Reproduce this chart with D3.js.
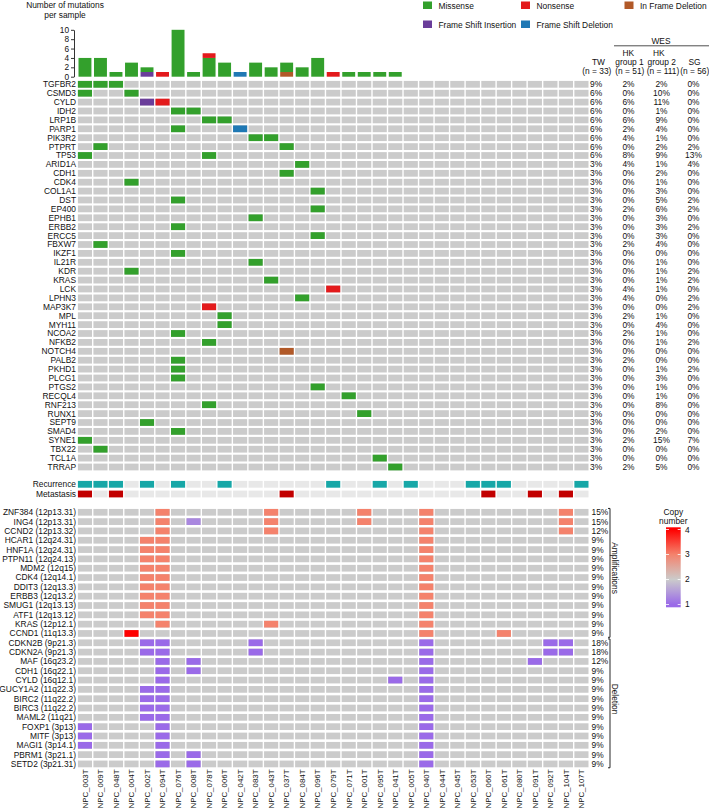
<!DOCTYPE html>
<html><head><meta charset="utf-8">
<script src="https://cdn.jsdelivr.net/npm/d3@7"></script>
<style>
body{margin:0;background:#fff}
svg{display:block}
text{font-family:"Liberation Sans",Arial,Helvetica,sans-serif;font-size:8.4px;fill:#111}
</style>
</head><body><div id="chart"></div>
<script>
// ---------------- DATA ----------------
const samples = ["NPC_003T","NPC_009T","NPC_048T","NPC_004T","NPC_002T","NPC_094T","NPC_076T","NPC_008T","NPC_078T","NPC_006T","NPC_042T","NPC_083T","NPC_043T","NPC_037T","NPC_084T","NPC_096T","NPC_079T","NPC_071T","NPC_001T","NPC_095T","NPC_041T","NPC_005T","NPC_040T","NPC_044T","NPC_045T","NPC_053T","NPC_060T","NPC_061T","NPC_080T","NPC_091T","NPC_092T","NPC_104T","NPC_107T"];

const mutGenes = ["TGFBR2","CSMD3","CYLD","IDH2","LRP1B","PARP1","PIK3R2","PTPRT","TP53","ARID1A","CDH1","CDK4","COL1A1","DST","EP400","EPHB1","ERBB2","ERCC5","FBXW7","IKZF1","IL21R","KDR","KRAS","LCK","LPHN3","MAP3K7","MPL","MYH11","NCOA2","NFKB2","NOTCH4","PALB2","PKHD1","PLCG1","PTGS2","RECQL4","RNF213","RUNX1","SEPT9","SMAD4","SYNE1","TBX22","TCL1A","TRRAP"];

const mutTypes = ["Missense","Nonsense","In Frame Deletion","Frame Shift Insertion","Frame Shift Deletion"];
const mutColors = ["#33a02c","#e31a1c","#b15928","#6a3d9a","#1f78b4"];
const stackOrder = ["Frame Shift Insertion","In Frame Deletion","Frame Shift Deletion","Missense","Nonsense"];

// [gene, sample, type]
const mutEvents = [
 ["TGFBR2","NPC_003T","Missense"],["TGFBR2","NPC_009T","Missense"],["TGFBR2","NPC_048T","Missense"],
 ["CSMD3","NPC_003T","Missense"],["CSMD3","NPC_004T","Missense"],
 ["CYLD","NPC_002T","Frame Shift Insertion"],["CYLD","NPC_094T","Nonsense"],
 ["IDH2","NPC_076T","Missense"],["IDH2","NPC_008T","Missense"],
 ["LRP1B","NPC_078T","Missense"],["LRP1B","NPC_006T","Missense"],
 ["PARP1","NPC_076T","Missense"],["PARP1","NPC_042T","Frame Shift Deletion"],
 ["PIK3R2","NPC_083T","Missense"],["PIK3R2","NPC_043T","Missense"],
 ["PTPRT","NPC_009T","Missense"],["PTPRT","NPC_037T","Missense"],
 ["TP53","NPC_003T","Missense"],["TP53","NPC_078T","Missense"],
 ["ARID1A","NPC_084T","Missense"],["CDH1","NPC_037T","Missense"],["CDK4","NPC_004T","Missense"],
 ["COL1A1","NPC_096T","Missense"],["DST","NPC_076T","Missense"],["EP400","NPC_096T","Missense"],
 ["EPHB1","NPC_083T","Missense"],["ERBB2","NPC_076T","Missense"],["ERCC5","NPC_096T","Missense"],
 ["FBXW7","NPC_009T","Missense"],["IKZF1","NPC_076T","Missense"],["IL21R","NPC_083T","Missense"],
 ["KDR","NPC_004T","Missense"],["KRAS","NPC_043T","Missense"],["LCK","NPC_079T","Nonsense"],
 ["LPHN3","NPC_084T","Missense"],["MAP3K7","NPC_078T","Nonsense"],["MPL","NPC_006T","Missense"],
 ["MYH11","NPC_006T","Missense"],["NCOA2","NPC_076T","Missense"],["NFKB2","NPC_078T","Missense"],
 ["NOTCH4","NPC_037T","In Frame Deletion"],["PALB2","NPC_076T","Missense"],["PKHD1","NPC_076T","Missense"],
 ["PLCG1","NPC_076T","Missense"],["PTGS2","NPC_096T","Missense"],["RECQL4","NPC_071T","Missense"],
 ["RNF213","NPC_078T","Missense"],["RUNX1","NPC_001T","Missense"],["SEPT9","NPC_002T","Missense"],
 ["SMAD4","NPC_076T","Missense"],["SYNE1","NPC_003T","Missense"],["TBX22","NPC_009T","Missense"],
 ["TCL1A","NPC_095T","Missense"],["TRRAP","NPC_041T","Missense"]
];

// WES cohort frequencies (%), aligned with mutGenes
const hkGroup1 = [2,0,6,0,6,2,4,0,8,4, 0,0,0,0,2,0,0,0,2,0, 0,0,0,4,4,0,2,0,2,0, 0,2,0,0,0,0,0,0,0,0, 2,0,0,2];
const hkGroup2 = [2,10,11,1,9,4,1,2,9,1, 2,1,3,5,6,3,3,3,4,0, 1,1,1,1,0,0,1,4,1,1, 0,0,1,3,1,1,8,0,0,2, 15,0,0,5];
const sgFreq   = [0,0,0,0,0,0,0,2,13,4, 0,0,0,2,2,0,2,0,0,0, 0,2,2,0,2,2,0,0,0,2, 0,0,2,0,0,0,0,0,0,0, 7,0,0,0];

const recurrence = ["NPC_003T","NPC_009T","NPC_048T","NPC_002T","NPC_076T","NPC_006T","NPC_079T","NPC_095T","NPC_005T","NPC_053T","NPC_060T","NPC_061T","NPC_107T"];
const metastasis = ["NPC_003T","NPC_048T","NPC_037T","NPC_060T","NPC_091T","NPC_104T"];

const cnAmpGenes = ["ZNF384","ING4","CCND2","HCAR1","HNF1A","PTPN11","MDM2","CDK4","DDIT3","ERBB3","SMUG1","ATF1","KRAS","CCND1"];
const cnDelGenes = ["CDKN2B","CDKN2A","MAF","CDH1","CYLD","GUCY1A2","BIRC2","BIRC3","MAML2","FOXP1","MITF","MAGI1","PBRM1","SETD2"];
const cnBands = {"ZNF384":"12p13.31","ING4":"12p13.31","CCND2":"12p13.32","HCAR1":"12q24.31","HNF1A":"12q24.31","PTPN11":"12q24.13","MDM2":"12q15","CDK4":"12q14.1","DDIT3":"12q13.3","ERBB3":"12q13.2","SMUG1":"12q13.13","ATF1":"12q13.12","KRAS":"12p12.1","CCND1":"11q13.3","CDKN2B":"9p21.3","CDKN2A":"9p21.3","MAF":"16q23.2","CDH1":"16q22.1","CYLD":"16q12.1","GUCY1A2":"11q22.3","BIRC2":"11q22.2","BIRC3":"11q22.2","MAML2":"11q21","FOXP1":"3p13","MITF":"3p13","MAGI1":"3p14.1","PBRM1":"3p21.1","SETD2":"3p21.31"};

// [gene, sample, copy number]
const cnEvents = [
 ["ZNF384","NPC_094T",3],["ZNF384","NPC_043T",3],["ZNF384","NPC_001T",3],["ZNF384","NPC_040T",3],["ZNF384","NPC_104T",3],
 ["ING4","NPC_094T",3],["ING4","NPC_008T",1.3],["ING4","NPC_043T",3],["ING4","NPC_001T",3],["ING4","NPC_040T",3],["ING4","NPC_104T",3],
 ["CCND2","NPC_094T",3],["CCND2","NPC_043T",3],["CCND2","NPC_040T",3],["CCND2","NPC_104T",3],
 ["HCAR1","NPC_002T",3],["HCAR1","NPC_094T",3],["HCAR1","NPC_040T",3],
 ["HNF1A","NPC_002T",3],["HNF1A","NPC_094T",3],["HNF1A","NPC_040T",3],
 ["PTPN11","NPC_002T",3],["PTPN11","NPC_094T",3],["PTPN11","NPC_040T",3],
 ["MDM2","NPC_002T",3],["MDM2","NPC_094T",3],["MDM2","NPC_040T",3],
 ["CDK4","NPC_002T",3],["CDK4","NPC_094T",3],["CDK4","NPC_040T",3],
 ["DDIT3","NPC_002T",3],["DDIT3","NPC_094T",3],["DDIT3","NPC_040T",3],
 ["ERBB3","NPC_002T",3],["ERBB3","NPC_094T",3],["ERBB3","NPC_040T",3],
 ["SMUG1","NPC_002T",3],["SMUG1","NPC_094T",3],["SMUG1","NPC_040T",3],
 ["ATF1","NPC_002T",3],["ATF1","NPC_094T",3],["ATF1","NPC_040T",3],
 ["KRAS","NPC_094T",3],["KRAS","NPC_043T",3],["KRAS","NPC_040T",3],
 ["CCND1","NPC_004T",4],["CCND1","NPC_040T",3],["CCND1","NPC_061T",3],
 ["CDKN2B","NPC_002T",1],["CDKN2B","NPC_094T",1],["CDKN2B","NPC_083T",1],["CDKN2B","NPC_040T",1],["CDKN2B","NPC_092T",1],["CDKN2B","NPC_104T",1],
 ["CDKN2A","NPC_002T",1],["CDKN2A","NPC_094T",1],["CDKN2A","NPC_083T",1],["CDKN2A","NPC_040T",1],["CDKN2A","NPC_092T",1],["CDKN2A","NPC_104T",1],
 ["MAF","NPC_094T",1],["MAF","NPC_008T",1],["MAF","NPC_040T",1],["MAF","NPC_091T",1],
 ["CDH1","NPC_094T",1],["CDH1","NPC_008T",1],["CDH1","NPC_040T",1],
 ["CYLD","NPC_094T",1],["CYLD","NPC_041T",1],["CYLD","NPC_040T",1],
 ["GUCY1A2","NPC_002T",1],["GUCY1A2","NPC_094T",1],["GUCY1A2","NPC_040T",1],
 ["BIRC2","NPC_002T",1],["BIRC2","NPC_094T",1],["BIRC2","NPC_040T",1],
 ["BIRC3","NPC_002T",1],["BIRC3","NPC_094T",1],["BIRC3","NPC_040T",1],
 ["MAML2","NPC_002T",1],["MAML2","NPC_094T",1],["MAML2","NPC_040T",1],
 ["FOXP1","NPC_003T",1],["FOXP1","NPC_094T",1],["FOXP1","NPC_040T",1],
 ["MITF","NPC_003T",1],["MITF","NPC_094T",1],["MITF","NPC_040T",1],
 ["MAGI1","NPC_003T",1],["MAGI1","NPC_094T",1],["MAGI1","NPC_040T",1],
 ["PBRM1","NPC_094T",1],["PBRM1","NPC_008T",1],["PBRM1","NPC_040T",1],
 ["SETD2","NPC_094T",1],["SETD2","NPC_008T",1],["SETD2","NPC_040T",1]
];

const barTicks = [0,2,4,6,8,10];
const cnLegendTicks = [1,2,3,4];

// ---------------- DRAW ----------------
const W = 709, H = 810;
const svg = d3.select("#chart").append("svg").attr("width", W).attr("height", H);
const GREY = "#cbcbcb", LIGHT = "#e8e8e8";
const typeColor = d3.scaleOrdinal(mutTypes, mutColors);

const x = d3.scaleBand().domain(samples).range([77.2, 589.2]).paddingInner(0.09).paddingOuter(0.045);
const bw = x.bandwidth();

// ---- bar chart ----
const yBar = d3.scaleLinear().domain([0, 10]).range([76.7, 29.8]);
const countRows = samples.map(s => {
  const r = {sample: s};
  stackOrder.forEach(t => r[t] = mutEvents.filter(e => e[1] === s && e[2] === t).length);
  return r;
});
const stacked = d3.stack().keys(stackOrder)(countRows);
svg.append("g").selectAll("g").data(stacked).join("g")
  .attr("fill", d => typeColor(d.key))
  .selectAll("rect").data(d => d).join("rect")
  .attr("x", d => x(d.data.sample) + 0.6)
  .attr("width", bw - 1.2)
  .attr("y", d => yBar(d[1]))
  .attr("height", d => yBar(d[0]) - yBar(d[1]));

const ax = svg.append("g").attr("transform", "translate(74,0)")
  .call(d3.axisLeft(yBar).tickValues(barTicks).tickSize(3).tickSizeOuter(0).tickPadding(2));
ax.attr("font-size", null).attr("font-family", null);
ax.selectAll("text").style("font-size", "8.3px");
ax.selectAll("path,line").attr("stroke", "#333");

svg.append("text").attr("x", 65).attr("y", 8.2).attr("text-anchor", "middle").text("Number of mutations");
svg.append("text").attr("x", 65).attr("y", 17.8).attr("text-anchor", "middle").text("per sample");

// ---- mutation legend ----
const legPos = [[423, 1.5],[521, 1.5],[624.5, 1.5],[423, 20.5],[521, 20.5]];
const legOrder = ["Missense","Nonsense","In Frame Deletion","Frame Shift Insertion","Frame Shift Deletion"];
const leg = svg.append("g").selectAll("g").data(legOrder).join("g")
  .attr("transform", (d, i) => `translate(${legPos[i][0]},${legPos[i][1]})`);
leg.append("rect").attr("width", 9).attr("height", 7.5).attr("fill", d => typeColor(d));
leg.append("text").attr("x", 15.5).attr("y", 7).text(d => d);

// ---- mutation grid ----
const yMut = d3.scaleBand().domain(mutGenes).range([79.85, 471.45]).paddingInner(0.24).paddingOuter(0.12);
const gMut = svg.append("g");
gMut.selectAll("rect.bg").data(d3.cross(mutGenes, samples)).join("rect").attr("class","bg")
  .attr("x", d => x(d[1])).attr("y", d => yMut(d[0]))
  .attr("width", bw).attr("height", yMut.bandwidth()).attr("fill", GREY);
gMut.selectAll("rect.ev").data(mutEvents).join("rect").attr("class","ev")
  .attr("x", d => x(d[1])).attr("y", d => yMut(d[0]))
  .attr("width", bw).attr("height", yMut.bandwidth()).attr("fill", d => typeColor(d[2]));
gMut.selectAll("text.gl").data(mutGenes).join("text").attr("class","gl")
  .attr("x", 76).attr("y", d => yMut(d) + yMut.bandwidth()/2).attr("dy", "0.35em")
  .attr("text-anchor", "end").text(d => d);

// frequency table
const pct = v => v + "%";
const twPct = mutGenes.map(g => Math.round(100 * new Set(mutEvents.filter(e => e[0] === g).map(e => e[1])).size / samples.length));
const tableCols = [
  {vals: twPct, x: 590, anchor: "start"},
  {vals: hkGroup1, x: 628.5, anchor: "middle"},
  {vals: hkGroup2, x: 661.5, anchor: "middle"},
  {vals: sgFreq, x: 693.5, anchor: "middle"}
];
tableCols.forEach(c => {
  svg.append("g").selectAll("text").data(mutGenes).join("text")
    .attr("x", c.x).attr("text-anchor", c.anchor)
    .attr("y", (d) => yMut(d) + yMut.bandwidth()/2).attr("dy", "0.35em")
    .text((d, i) => pct(c.vals[i]));
});
// headers
const hdr = [
  ["WES", 661, 43.5],
  ["TW", 598.5, 65], ["(n = 33)", 596.8, 74.2],
  ["HK", 628.2, 55.8], ["group 1", 629.5, 65], ["(n = 51)", 629.8, 74.2],
  ["HK", 658.8, 55.8], ["group 2", 661.7, 65], ["(n = 111)", 663, 74.2],
  ["SG", 694.6, 65], ["(n = 56)", 694.7, 74.2]
];
svg.append("g").selectAll("text").data(hdr).join("text")
  .attr("x", d => d[1]).attr("y", d => d[2]).attr("text-anchor", "middle").text(d => d[0]);
svg.append("line").attr("x1", 614).attr("x2", 709).attr("y1", 45.8).attr("y2", 45.8).attr("stroke", "#222").attr("stroke-width", 0.8);

// ---- recurrence / metastasis ----
const clin = [["Recurrence", recurrence, "#17a7a7"], ["Metastasis", metastasis, "#c20000"]];
const yRM = d3.scaleBand().domain(clin.map(c => c[0])).range([479.45, 498.85]).paddingInner(0.3).paddingOuter(0.15);
const gRM = svg.append("g");
clin.forEach(([name, list, col]) => {
  gRM.append("g").selectAll("rect").data(samples).join("rect")
    .attr("x", d => x(d)).attr("y", yRM(name)).attr("width", bw).attr("height", yRM.bandwidth())
    .attr("fill", d => list.includes(d) ? col : LIGHT);
  gRM.append("text").attr("x", 76).attr("y", yRM(name) + yRM.bandwidth()/2).attr("dy", "0.35em")
    .attr("text-anchor", "end").text(name);
});

// ---- copy number grid ----
const cnGenes = cnAmpGenes.concat(cnDelGenes);
const yCN = d3.scaleBand().domain(cnGenes).range([507.64, 768.6]).paddingInner(0.28).paddingOuter(0.14);
const cnColor = d3.scaleLinear().domain([1, 2, 3, 4]).range(["#9a6ae8", GREY, "#f4826c", "#ff0000"]);
const gCN = svg.append("g");
gCN.selectAll("rect.bg").data(d3.cross(cnGenes, samples)).join("rect").attr("class","bg")
  .attr("x", d => x(d[1])).attr("y", d => yCN(d[0]))
  .attr("width", bw).attr("height", yCN.bandwidth()).attr("fill", GREY);
gCN.selectAll("rect.ev").data(cnEvents).join("rect").attr("class","ev")
  .attr("x", d => x(d[1])).attr("y", d => yCN(d[0]))
  .attr("width", bw).attr("height", yCN.bandwidth()).attr("fill", d => cnColor(d[2]));
gCN.selectAll("text.gl").data(cnGenes).join("text").attr("class","gl")
  .attr("x", 76).attr("y", d => yCN(d) + yCN.bandwidth()/2).attr("dy", "0.35em")
  .attr("text-anchor", "end").text(d => `${d} (${cnBands[d]})`);
const cnPct = g => {
  const amp = cnAmpGenes.includes(g);
  const n = cnEvents.filter(e => e[0] === g && (amp ? e[2] > 2 : e[2] < 2)).length;
  return Math.round(100 * n / samples.length) + "%";
};
gCN.selectAll("text.pc").data(cnGenes).join("text").attr("class","pc")
  .attr("x", 591.5).attr("y", d => yCN(d) + yCN.bandwidth()/2).attr("dy", "0.35em").text(cnPct);

// brackets
[[cnAmpGenes, "Amplifications", 568], [cnDelGenes, "Deletion", 699]].forEach(([genes, label, cy]) => {
  const y0 = yCN(genes[0]) - 0.5, y1 = yCN(genes[genes.length - 1]) + yCN.bandwidth() + 0.5;
  svg.append("path").attr("d", `M608,${y0}H610V${y1}H608`).attr("fill", "none").attr("stroke", "#111").attr("stroke-width", 0.9);
  svg.append("text").attr("transform", `translate(612.3,${cy}) rotate(90)`).attr("text-anchor", "middle").text(label);
});

// ---- copy number legend ----
const yLeg = d3.scaleLinear().domain([1, 4]).range([604.5, 529.5]);
const lg0 = 527.3, lg1 = 607.3, lx = 666, lw = 14.7;
const defs = svg.append("defs");
const grad = defs.append("linearGradient").attr("id", "cnGrad").attr("x1", 0).attr("x2", 0).attr("y1", 0).attr("y2", 1);
d3.range(1, 4.01, 0.25).reverse().forEach(v => {
  grad.append("stop").attr("offset", ((yLeg(v) - lg0) / (lg1 - lg0))).attr("stop-color", cnColor(v));
});
svg.append("rect").attr("x", lx).attr("y", lg0).attr("width", lw).attr("height", lg1 - lg0).attr("fill", "url(#cnGrad)");
cnLegendTicks.forEach(v => {
  svg.append("line").attr("x1", lx).attr("x2", lx + 3).attr("y1", yLeg(v)).attr("y2", yLeg(v)).attr("stroke", "#fff").attr("stroke-width", 0.8);
  svg.append("line").attr("x1", lx + lw - 3).attr("x2", lx + lw).attr("y1", yLeg(v)).attr("y2", yLeg(v)).attr("stroke", "#fff").attr("stroke-width", 0.8);
  svg.append("text").attr("x", 685).attr("y", yLeg(v) + (v === 4 ? 0.8 : 0)).attr("dy", "0.35em").text(v);
});
svg.append("text").attr("x", 673.3).attr("y", 515.3).attr("text-anchor", "middle").text("Copy");
svg.append("text").attr("x", 673.3).attr("y", 523.8).attr("text-anchor", "middle").text("number");

// ---- sample labels ----
svg.append("g").selectAll("text").data(samples).join("text")
  .attr("transform", d => `translate(${x(d) + bw/2 + 2.8},769.5) rotate(-90)`)
  .attr("text-anchor", "end").style("font-size", "7.9px").text(d => d);
</script></body></html>
